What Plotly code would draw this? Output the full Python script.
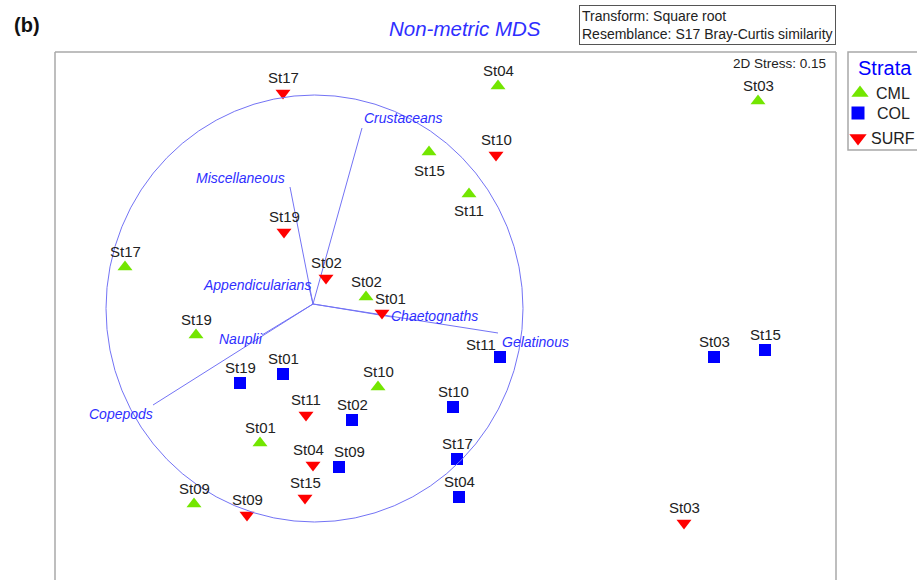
import plotly.graph_objects as go

# MDS ordination scores (arbitrary units)
cml_stations = ["St04", "St03", "St15", "St11", "St17", "St02", "St19", "St10", "St01", "St09"]
cml_x = [1.85, 4.45, 1.16, 1.56, -1.88, 0.53, -1.17, 0.65, -0.53, -1.19]
cml_y = [2.18, 2.03, 1.52, 1.10, 0.37, 0.07, -0.31, -0.83, -1.39, -2.00]

col_stations = ["St19", "St01", "St02", "St09", "St11", "St10", "St17", "St04", "St03", "St15"]
col_x = [-0.73, -0.30, 0.39, 0.26, 1.87, 1.40, 1.44, 1.46, 4.01, 4.52]
col_y = [-0.79, -0.70, -1.16, -1.63, -0.53, -1.03, -1.55, -1.93, -0.53, -0.46]

surf_stations = ["St17", "St19", "St10", "St02", "St01", "St11", "St04", "St15", "St09", "St03"]
surf_x = [-0.30, -0.29, 1.83, 0.13, 0.69, -0.07, 0.00, -0.08, -0.66, 3.71]
surf_y = [2.11, 0.72, 1.49, 0.26, -0.09, -1.11, -1.61, -1.94, -2.11, -2.19]

# vector overlay (correlations of groups with the ordination)
vec_names = ["Crustaceans", "Miscellaneous", "Appendicularians", "Nauplii", "Copepods", "Chaetognaths", "Gelatinous"]
vec_x = [0.49, -0.23, -0.05, -0.51, -1.60, 0.79, 1.85]
vec_y = [1.76, 1.17, 0.21, -0.31, -1.01, -0.13, -0.29]

stress = 0.15

# pixel offsets of the vector labels from the vector tips
vec_label_shift = {
    "Crustaceans": (41, 10), "Miscellaneous": (-50, 9), "Appendicularians": (-51, -2),
    "Nauplii": (-21, -4), "Copepods": (-32, -9), "Chaetognaths": (42, 1), "Gelatinous": (37, -9),
}
# station labels sit 16px above the marker unless listed here (dx, dy in px)
label_shift = {("CML", "St15"): (0, -18), ("CML", "St11"): (0, -16),
               ("COL", "St11"): (-19, 13), ("COL", "St09"): (10, 16),
               ("SURF", "St04"): (-5, 16), ("SURF", "St01"): (8, 15)}

vec_color = "rgb(115,115,245)"
txt_blue = "#2f2fff"
border = "#a8a8a8"
lab_font = dict(family="Arial", size=15, color="#222222")

fig = go.Figure()

# circle and vectors
fig.add_shape(type="circle", xref="x", yref="y", x0=-2.07, x1=2.10, y0=-2.18, y1=2.09,
              line=dict(color=vec_color, width=1))
for name, vx, vy in zip(vec_names, vec_x, vec_y):
    fig.add_trace(go.Scatter(x=[0, vx], y=[0, vy], mode="lines", hoverinfo="skip",
                             line=dict(color=vec_color, width=1)))
    dx, dy = vec_label_shift[name]
    fig.add_annotation(x=vx, y=vy, xref="x", yref="y", text="<i>" + name + "</i>", showarrow=False,
                       xshift=dx, yshift=dy, font=dict(family="Arial", size=14, color=txt_blue))

groups = [
    ("CML", cml_stations, cml_x, cml_y, "triangle-up", "#73e600"),
    ("COL", col_stations, col_x, col_y, "square", "#0000ff"),
    ("SURF", surf_stations, surf_x, surf_y, "triangle-down", "#ff0000"),
]
for name, st, xs, ys, sym, colr in groups:
    fig.add_trace(go.Scatter(x=xs, y=ys, mode="markers", name=name,
                             marker=dict(symbol=sym, size=12 if sym == "square" else 13, color=colr)))
    for s, x, y in zip(st, xs, ys):
        dx, dy = label_shift.get((name, s), (0, 16))
        fig.add_annotation(x=x, y=y, xref="x", yref="y", text=s, showarrow=False,
                           xshift=dx, yshift=dy, font=lab_font)

# frame: left, top, right (bottom edge is cut off in the original)
for x0, y0, x1, y1 in [(0, 0, 0, 1), (0, 1, 1, 1), (1, 0, 1, 1)]:
    fig.add_shape(type="line", xref="x domain", yref="y domain", x0=x0, y0=y0, x1=x1, y1=y1,
                  line=dict(color=border, width=1.5))

# hand-made legend box on its own little axes (px units, y from top)
fig.add_shape(type="rect", xref="x2 domain", yref="y2 domain", x0=0, x1=1.3, y0=0, y1=1,
              line=dict(color=border, width=1.5))
fig.add_annotation(xref="x2", yref="y2", x=37, y=16, text="Strata", showarrow=False,
                   font=dict(family="Arial", size=20, color="#0000ff"))
for (name, st, xs, ys, sym, colr), ly, lx in zip(groups, [41, 61, 86], [12, 10, 10]):
    fig.add_trace(go.Scatter(x=[lx], y=[ly], xaxis="x2", yaxis="y2", mode="markers", hoverinfo="skip",
                             marker=dict(symbol=sym, size=13 if sym == "square" else 15, color=colr)))
    fig.add_annotation(xref="x2", yref="y2", x=45, y=ly, text=name, showarrow=False,
                       font=dict(family="Arial", size=16, color="#222"))

fig.add_annotation(xref="x domain", yref="y domain", x=0.525, y=1.045, text="<i>Non-metric MDS</i>",
                   yanchor="middle", showarrow=False, font=dict(family="Arial", size=20.5, color=txt_blue))
fig.add_annotation(xref="x domain", yref="y domain", x=-0.055, y=1.051, xanchor="left", yanchor="middle",
                   text="<b>(b)</b>", showarrow=False, font=dict(family="Arial", size=20, color="#111"))
fig.add_annotation(xref="x domain", yref="y domain", x=1.0, y=1.089, xanchor="right", yanchor="top",
                   text="Transform: Square root<br>Resemblance: S17 Bray-Curtis similarity",
                   align="left", showarrow=False, bordercolor="#555", borderwidth=1, borderpad=2,
                   font=dict(family="Arial", size=14, color="#222"))
fig.add_annotation(xref="x domain", yref="y domain", x=0.99, y=0.979, xanchor="right", yanchor="middle",
                   text="2D Stress: %.2f" % stress, showarrow=False,
                   font=dict(family="Arial", size=13.5, color="#222"))

fig.update_layout(
    width=917, height=580, showlegend=False,
    margin=dict(l=55, r=0, t=52, b=0, autoexpand=False),
    plot_bgcolor="white", paper_bgcolor="white",
    xaxis=dict(domain=[0, 781 / 862], range=[-2.58, 5.23], visible=False),
    yaxis=dict(domain=[0, 1], range=[-2.76, 2.52], visible=False),
    xaxis2=dict(domain=[793 / 862, 1], range=[0, 69], visible=False, anchor="y2"),
    yaxis2=dict(domain=[430 / 528, 1], range=[98, 0], visible=False, anchor="x2"),
)

# drop the default 8px page margin so the figure fills the window exactly
fig.write_html("out.html", config={"displayModeBar": False},
               post_script="document.body.style.margin='0';document.body.style.overflow='hidden';")
